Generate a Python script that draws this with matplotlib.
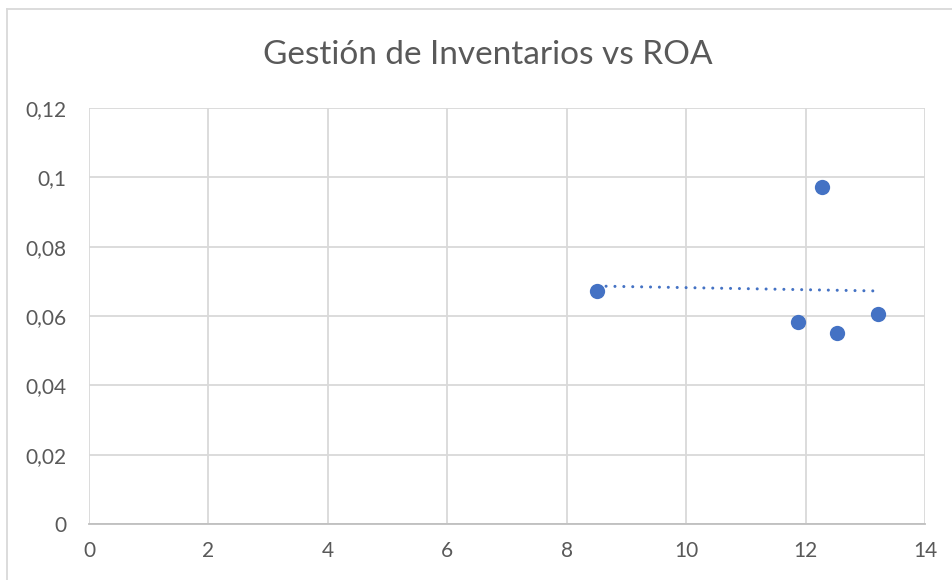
import numpy as np
import matplotlib
matplotlib.use("Agg")
import matplotlib.pyplot as plt
from matplotlib.ticker import FuncFormatter
from matplotlib.lines import Line2D

# data
inventarios = [8.51, 12.28, 11.87, 12.53, 13.21]
roa = [0.0672, 0.0972, 0.0583, 0.0551, 0.0606]

x_ticks = [0, 2, 4, 6, 8, 10, 12, 14]
y_ticks = [0, 0.02, 0.04, 0.06, 0.08, 0.10, 0.12]

BLUE = "#4472C4"
TEXT = "#595959"
GRID = "#D9D9D9"

plt.rcParams["font.family"] = ["Lato", "DejaVu Sans"]

fig = plt.figure(figsize=(9.52, 5.8), dpi=100)
ax = fig.add_axes([89 / 952, 1 - 524 / 580, (925 - 89) / 952, (524 - 108) / 580])

ax.scatter(inventarios, roa, s=11 ** 2, color=BLUE, zorder=4, linewidths=0)

# linear trendline
slope, intercept = np.polyfit(inventarios, roa, 1)
xs = np.array([min(inventarios), max(inventarios)])
ax.plot(xs, slope * xs + intercept, color=BLUE, linewidth=2.2,
        linestyle=(0, (0.01, 2.9)), dash_capstyle="round", zorder=3)

ax.set_xlim(0, 14)
ax.set_ylim(0, 0.12)
ax.set_xticks(x_ticks)
ax.set_yticks(y_ticks)

fmt = FuncFormatter(lambda v, p: f"{v:g}".replace(".", ","))
ax.xaxis.set_major_formatter(fmt)
ax.yaxis.set_major_formatter(fmt)

ax.grid(True, color=GRID, linewidth=1.3)
ax.set_axisbelow(True)
for side in ["top", "right", "left"]:
    ax.spines[side].set_visible(False)
ax.spines["bottom"].set_color("#BFBFBF")
ax.spines["bottom"].set_linewidth(1.3)
ax.spines["bottom"].set_zorder(2)

ax.tick_params(axis="both", length=0, labelsize=15, labelcolor=TEXT)
ax.tick_params(axis="y", pad=16)
ax.tick_params(axis="x", pad=12)

fig.text(488 / 952, 1 - 55 / 580, "Gestión de Inventarios vs ROA",
         ha="center", va="center", fontsize=24, color=TEXT)

# chart area border (cut off at right/bottom)
bx, by = 7 / 952, 1 - 9 / 580
fig.add_artist(Line2D([bx, bx], [0, by], transform=fig.transFigure, color=GRID, linewidth=1.3))
fig.add_artist(Line2D([bx, 1], [by, by], transform=fig.transFigure, color=GRID, linewidth=1.3))

fig.savefig("out.png", dpi=100)
